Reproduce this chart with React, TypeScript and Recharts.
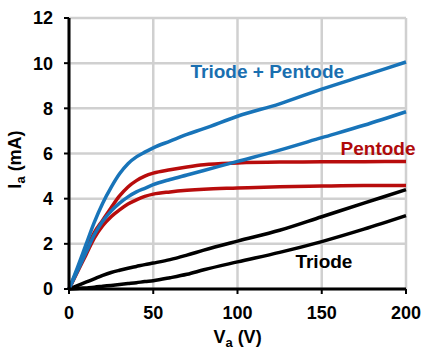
import React from 'react';
import { LineChart, Line, XAxis, YAxis, CartesianGrid, ReferenceDot } from 'recharts';

const voltage = [0, 5, 10, 15, 20, 25, 30, 35, 40, 45, 50, 60, 70, 80, 100, 125, 150, 175, 200];
const triodePentodeHigh = [0, 0.95, 1.95, 2.95, 3.8, 4.5, 5.1, 5.55, 5.85, 6.06, 6.25, 6.55, 6.85, 7.1, 7.65, 8.2, 8.85, 9.45, 10.05];
const triodePentodeLow = [0, 0.8, 1.6, 2.4, 3.0, 3.45, 3.8, 4.08, 4.3, 4.46, 4.62, 4.85, 5.05, 5.25, 5.65, 6.15, 6.7, 7.25, 7.85];
const pentodeHigh = [0, 0.85, 1.7, 2.5, 3.05, 3.6, 4.12, 4.52, 4.8, 5.0, 5.13, 5.28, 5.4, 5.5, 5.58, 5.62, 5.63, 5.64, 5.65];
const pentodeLow = [0, 0.75, 1.5, 2.25, 2.8, 3.2, 3.5, 3.76, 3.95, 4.1, 4.2, 4.3, 4.37, 4.42, 4.47, 4.53, 4.56, 4.58, 4.58];
const triodeHigh = [0, 0.15, 0.3, 0.45, 0.6, 0.73, 0.83, 0.92, 1.0, 1.08, 1.15, 1.3, 1.5, 1.72, 2.12, 2.6, 3.2, 3.8, 4.4];
const triodeLow = [0, 0.02, 0.05, 0.08, 0.12, 0.16, 0.2, 0.24, 0.28, 0.33, 0.37, 0.5, 0.65, 0.85, 1.2, 1.62, 2.1, 2.65, 3.25];

const xTicks = [0, 50, 100, 150, 200];
const yTicks = [0, 2, 4, 6, 8, 10, 12];

const labels = [
  { text: 'Triode + Pentode', v: 117.7, i: 9.64, color: '#1a6fb0' },
  { text: 'Pentode', v: 183.4, i: 6.24, color: '#b00a0a' },
  { text: 'Triode', v: 151.3, i: 1.21, color: '#000000' },
];

const data = voltage.map((v, k) => ({
  v,
  tp1: triodePentodeHigh[k],
  tp2: triodePentodeLow[k],
  p1: pentodeHigh[k],
  p2: pentodeLow[k],
  t1: triodeHigh[k],
  t2: triodeLow[k],
}));

const FONT = '"Liberation Sans", Arial, sans-serif';
const BLUE = '#1874b9';
const RED = '#b80c0c';

const XLabel = (props: any) => {
  const vb = props.viewBox;
  const cx = vb.x + vb.width / 2;
  return (
    <text x={cx} y={vb.y + 54} textAnchor="middle" fontFamily={FONT} fontWeight="bold" fontSize={18} fill="#000">
      <tspan>V</tspan>
      <tspan fontSize={13} dy={4}>a</tspan>
      <tspan dy={-4}> (V)</tspan>
    </text>
  );
};

const YLabel = (props: any) => {
  const vb = props.viewBox;
  const cx = 21;
  const cy = vb.y + vb.height / 2 + 6;
  return (
    <text x={cx} y={cy} transform={`rotate(-90, ${cx}, ${cy})`} textAnchor="middle" fontFamily={FONT} fontWeight="bold" fontSize={18} fill="#000">
      <tspan>I</tspan>
      <tspan fontSize={13} dy={4}>a</tspan>
      <tspan dy={-4}> (mA)</tspan>
    </text>
  );
};

export default function App() {
  const tickStyle = { fill: '#000', fontSize: 18, fontWeight: 'bold', fontFamily: FONT };
  return (
    <div style={{ position: 'absolute', left: 0, top: 0 }}>
      <LineChart width={427} height={353} data={data} margin={{ top: 18, right: 21, left: 8, bottom: 0 }}>
        <CartesianGrid stroke="#d0d0d0" strokeWidth={2.5} />
        <XAxis
          dataKey="v"
          type="number"
          domain={[0, 200]}
          ticks={xTicks}
          height={64}
          tick={tickStyle}
          tickSize={5}
          tickMargin={12}
          axisLine={{ stroke: '#000', strokeWidth: 3 }}
          tickLine={{ stroke: '#000', strokeWidth: 2 }}
          label={<XLabel />}
        />
        <YAxis
          type="number"
          domain={[0, 12]}
          ticks={yTicks}
          width={61}
          tick={tickStyle}
          tickSize={5}
          tickMargin={11}
          axisLine={{ stroke: '#000', strokeWidth: 3 }}
          tickLine={{ stroke: '#000', strokeWidth: 2 }}
          label={<YLabel />}
        />
        <Line type="monotone" dataKey="t2" stroke="#000" strokeWidth={3.5} dot={false} isAnimationActive={false} />
        <Line type="monotone" dataKey="t1" stroke="#000" strokeWidth={3.5} dot={false} isAnimationActive={false} />
        <Line type="monotone" dataKey="p2" stroke={RED} strokeWidth={3.5} dot={false} isAnimationActive={false} />
        <Line type="monotone" dataKey="p1" stroke={RED} strokeWidth={3.5} dot={false} isAnimationActive={false} />
        <Line type="monotone" dataKey="tp2" stroke={BLUE} strokeWidth={3.5} dot={false} isAnimationActive={false} />
        <Line type="monotone" dataKey="tp1" stroke={BLUE} strokeWidth={3.5} dot={false} isAnimationActive={false} />
        {labels.map((l) => (
          <ReferenceDot
            key={l.text}
            x={l.v}
            y={l.i}
            r={0}
            stroke="none"
            fill="none"
            ifOverflow="visible"
            label={{ value: l.text, position: 'center', fill: l.color, fontSize: 19, fontWeight: 'bold', fontFamily: FONT }}
          />
        ))}
      </LineChart>
    </div>
  );
}
